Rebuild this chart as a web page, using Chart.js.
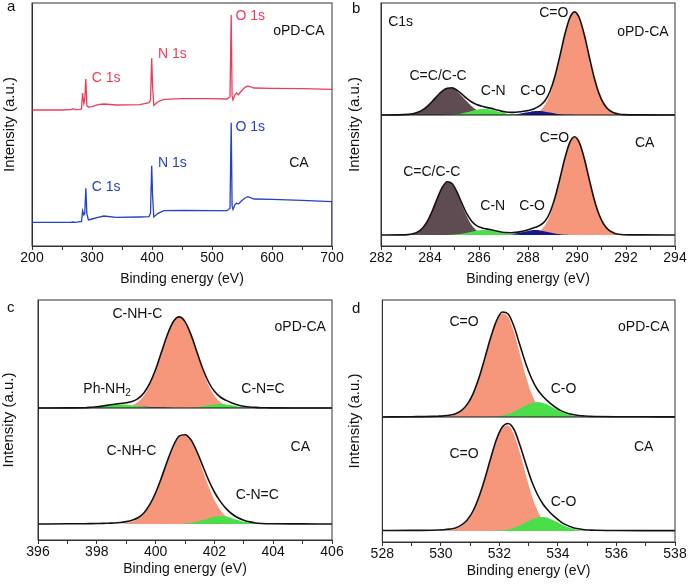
<!DOCTYPE html>
<html>
<head>
<meta charset="utf-8">
<title>XPS spectra</title>
<script src="https://cdn.jsdelivr.net/npm/chart.js@4.4.1/dist/chart.umd.min.js"></script>
<style>
    html, body { margin: 0; padding: 0; background: #ffffff; }
    #figure { position: relative; width: 691px; height: 584px; }
    #figure canvas { position: absolute; }
</style>
</head>
<body>
<div id="figure">
    <canvas id="chartA" width="345" height="290" style="left:0;top:0"></canvas>
    <canvas id="chartB" width="346" height="290" style="left:345px;top:0"></canvas>
    <canvas id="chartC" width="345" height="294" style="left:0;top:290px"></canvas>
    <canvas id="chartD" width="346" height="294" style="left:345px;top:290px"></canvas>
</div>
<script>
// survey spectra (a)
const surveyEnergy = [200, 250, 265, 268, 272, 280, 282.5, 284.3, 286.5, 288, 289.7, 291.5, 294, 300, 310, 320, 340, 380, 395, 397.5, 399.5, 401, 403, 410, 420, 450, 500, 525, 530, 532, 533.5, 535, 538, 541, 544, 549, 555, 560, 570, 600, 650, 700, 700];
const surveyOpdCa = [136, 136, 136.3, 137.3, 136.3, 136.7, 137, 153, 142.7, 147, 167, 140, 139, 139.3, 141.3, 142, 141, 141.3, 143.3, 146, 187.7, 160, 140.7, 144.3, 146.7, 147.3, 147.3, 147, 149.3, 231, 150, 146, 151, 153, 151.5, 155, 158.7, 160, 158, 157.7, 157.3, 156.7, 156.7];
const surveyCa = [23.7, 23.7, 23.7, 24, 23.7, 24.3, 24.5, 35.3, 31, 33, 57.7, 32, 26, 27, 28.7, 30, 28.7, 29, 29.3, 33, 80.3, 50, 29, 32.7, 35.3, 35.7, 35.3, 35.3, 37.7, 123.3, 40, 36.5, 41, 43, 42, 45, 48, 49.3, 47, 46.7, 45.7, 44.3, 0];

// C 1s (b)
const c1sEnergy = [282, 282.7, 283.1, 283.3, 283.5, 283.7, 283.9, 284.1, 284.3, 284.5, 284.7, 284.9, 285.1, 285.3, 285.5, 285.7, 285.9, 286.1, 286.3, 286.5, 286.7, 286.9, 287.1, 287.3, 287.5, 287.7, 287.9, 288.1, 288.3, 288.5, 288.7, 288.9, 289.1, 289.3, 289.5, 289.7, 289.9, 290.1, 290.3, 290.5, 290.7, 290.9, 291.1, 291.3, 291.5, 291.7, 291.9, 292.6, 294];
const c1sOpdEnvelope = [0, 0.1, 0.6, 1.3, 2.7, 5.1, 8.9, 13.8, 19.2, 23.9, 26.8, 27.1, 24.8, 20.9, 16.6, 13.0, 10.5, 8.9, 7.6, 6.6, 5.2, 3.9, 3.0, 2.6, 2.8, 3.3, 4.0, 5.0, 6.8, 9.6, 14.5, 23.8, 38.8, 58.9, 80.3, 96.8, 103.1, 96.7, 80.0, 58.3, 37.5, 21.4, 11.0, 5.1, 2.3, 1.0, 0.4, 0.1, 0];
const c1sOpdCC = [0, 0, 0.5, 1.2, 2.6, 5.0, 8.8, 13.7, 19.1, 23.8, 26.6, 26.6, 23.8, 19.1, 13.7, 8.8, 5.0, 2.6, 1.2, 0.5, 0.2, 0, 0, 0, 0, 0, 0, 0, 0, 0, 0, 0, 0, 0, 0, 0, 0, 0, 0, 0, 0, 0, 0, 0, 0, 0, 0, 0, 0];
const c1sOpdCN = [0, 0, 0, 0, 0, 0, 0, 0, 0, 0, 0.15, 0.4, 0.8, 1.6, 2.7, 4.0, 5.2, 5.9, 5.9, 5.2, 4.0, 2.7, 1.6, 0.8, 0.4, 0.15, 0, 0, 0, 0, 0, 0, 0, 0, 0, 0, 0, 0, 0, 0, 0, 0, 0, 0, 0, 0, 0, 0, 0];
const c1sOpdCO = [0, 0, 0, 0, 0, 0, 0, 0, 0, 0, 0, 0, 0, 0, 0, 0, 0, 0, 0, 0, 0, 0, 0.14, 0.36, 0.8, 1.5, 2.4, 3.3, 3.9, 3.9, 3.3, 2.4, 1.5, 0.8, 0.36, 0.14, 0, 0, 0, 0, 0, 0, 0, 0, 0, 0, 0, 0, 0];
const c1sOpdCdO = [0, 0, 0, 0, 0, 0, 0, 0, 0, 0, 0, 0, 0, 0, 0, 0, 0, 0, 0, 0, 0, 0, 0, 0, 0, 0, 0.2, 0.6, 1.8, 4.5, 10.4, 20.9, 37.1, 58.0, 79.8, 96.6, 103, 96.6, 79.8, 58.0, 37.1, 20.9, 10.4, 4.5, 1.8, 0.6, 0.2, 0, 0];
const c1sCaEnvelope = [0, 0.1, 0.4, 1.2, 3.1, 7.0, 14.1, 24.5, 36.8, 47.6, 53.3, 51.5, 43.2, 31.8, 21.3, 13.8, 9.4, 7.3, 6.1, 5.2, 4.0, 3.0, 2.4, 2.3, 2.6, 3.4, 4.6, 6.0, 7.7, 9.9, 14.0, 22.8, 37.2, 56.2, 76.5, 92.2, 98.2, 92.1, 76.3, 55.6, 35.8, 20.5, 10.5, 4.8, 2.1, 0.8, 0.3, 0.1, 0];
const c1sCaCC = [0, 0, 0.3, 1.1, 3.0, 6.9, 13.9, 24.3, 36.5, 47.2, 52.7, 50.8, 42.2, 30.3, 18.8, 10.0, 4.6, 1.8, 0.6, 0.2, 0, 0, 0, 0, 0, 0, 0, 0, 0, 0, 0, 0, 0, 0, 0, 0, 0, 0, 0, 0, 0, 0, 0, 0, 0, 0, 0, 0, 0];
const c1sCaCN = [0, 0, 0, 0, 0, 0, 0, 0, 0, 0, 0.1, 0.3, 0.7, 1.3, 2.2, 3.3, 4.3, 4.9, 4.9, 4.3, 3.3, 2.2, 1.3, 0.7, 0.3, 0.1, 0, 0, 0, 0, 0, 0, 0, 0, 0, 0, 0, 0, 0, 0, 0, 0, 0, 0, 0, 0, 0, 0, 0];
const c1sCaCO = [0, 0, 0, 0, 0, 0, 0, 0, 0, 0, 0, 0, 0, 0, 0, 0, 0, 0, 0, 0, 0, 0.1, 0.3, 0.7, 1.4, 2.4, 3.6, 4.6, 5.0, 4.6, 3.6, 2.4, 1.4, 0.7, 0.3, 0.1, 0, 0, 0, 0, 0, 0, 0, 0, 0, 0, 0, 0, 0];
const c1sCaCdO = [0, 0, 0, 0, 0, 0, 0, 0, 0, 0, 0, 0, 0, 0, 0, 0, 0, 0, 0, 0, 0, 0, 0, 0, 0, 0, 0.2, 0.6, 1.7, 4.3, 9.9, 19.9, 35.3, 55.2, 76.0, 91.9, 98, 91.9, 76.0, 55.2, 35.3, 19.9, 9.9, 4.3, 1.7, 0.6, 0.2, 0, 0];

// N 1s (c)
const n1sEnergy = [396, 397, 397.6, 397.8, 398.0, 398.2, 398.4, 398.6, 398.8, 399.0, 399.2, 399.4, 399.6, 399.8, 400.0, 400.2, 400.4, 400.6, 400.8, 401.0, 401.2, 401.4, 401.6, 401.8, 402.0, 402.2, 402.4, 402.6, 402.8, 403.0, 403.2, 403.4, 403.6, 403.8, 404.0, 405, 406];
const n1sOpdEnvelope = [0, 0.1, 0.3, 0.7, 1.2, 2.0, 2.9, 3.8, 4.5, 5.2, 6.4, 9.3, 15.0, 24.6, 38.5, 55.9, 73.3, 86.3, 91.1, 86.4, 73.6, 56.4, 39.5, 26.0, 16.7, 11.0, 7.6, 5.0, 3.1, 1.8, 1.0, 0.6, 0.3, 0.2, 0.1, 0, 0];
const n1sOpdCNHC = [0, 0, 0, 0, 0, 0, 0, 0, 0.4, 1.0, 2.6, 6.0, 12.3, 22.7, 37.4, 55.2, 72.9, 86.1, 91, 86.1, 72.9, 55.2, 37.4, 22.7, 12.3, 6.0, 2.6, 1.0, 0.4, 0, 0, 0, 0, 0, 0, 0, 0];
const n1sOpdPhNH2 = [0, 0, 0.2, 0.5, 1.0, 1.7, 2.5, 3.2, 3.5, 3.2, 2.5, 1.7, 1.0, 0.5, 0.2, 0, 0, 0, 0, 0, 0, 0, 0, 0, 0, 0, 0, 0, 0, 0, 0, 0, 0, 0, 0, 0, 0];
const n1sOpdMinor = [0, 0, 0, 0, 0, 0, 0, 0.27, 0.5, 0.8, 1.1, 1.3, 1.3, 1.1, 0.8, 0.5, 0.27, 0.1, 0, 0, 0, 0, 0, 0, 0, 0, 0, 0, 0, 0, 0, 0, 0, 0, 0, 0, 0];
const n1sOpdCNC = [0, 0, 0, 0, 0, 0, 0, 0, 0, 0, 0, 0, 0, 0, 0, 0, 0, 0, 0, 0, 0.3, 0.8, 1.6, 2.7, 3.6, 4, 3.6, 2.7, 1.6, 0.8, 0.3, 0, 0, 0, 0, 0, 0];
const n1sCaEnvelope = [0, 0.2, 0.3, 0.4, 0.5, 0.6, 0.8, 1.0, 1.5, 2.4, 3.8, 6.2, 11.0, 19.3, 31.3, 46.4, 63.0, 78.0, 87.8, 89.3, 84.2, 72.6, 58.3, 44.0, 32.0, 22.6, 15.4, 10.0, 6.2, 3.8, 2.1, 1.0, 0.5, 0.3, 0.2, 0.1, 0];
const n1sCaCNHC = [0, 0, 0, 0, 0, 0, 0, 0, 0, 1.0, 2.4, 5.2, 10.3, 18.6, 30.6, 45.7, 62.2, 77.0, 86.7, 88.7, 82.7, 70.0, 54.0, 37.8, 24.1, 14.0, 7.4, 3.6, 1.5, 0.6, 0, 0, 0, 0, 0, 0, 0];
const n1sCaCNC = [0, 0, 0, 0, 0, 0, 0, 0, 0, 0, 0, 0, 0, 0, 0, 0, 0, 0, 0, 0.4, 1.1, 2.2, 3.9, 5.8, 7.4, 8, 7.4, 5.8, 3.9, 2.2, 1.1, 0.4, 0.1, 0, 0, 0, 0];

// O 1s (d)
const o1sEnergy = [528, 529, 529.7, 529.9, 530.1, 530.3, 530.5, 530.7, 530.9, 531.1, 531.3, 531.5, 531.7, 531.9, 532.1, 532.3, 532.5, 532.7, 532.9, 533.1, 533.3, 533.5, 533.7, 533.9, 534.1, 534.3, 534.5, 534.7, 534.9, 535.1, 535.3, 536, 537, 538];
const o1sOpdEnvelope = [0, 0.3, 0.6, 0.8, 1.1, 1.8, 3.2, 6.4, 12.6, 23.2, 38.9, 58.6, 79.2, 96.2, 105.0, 103.0, 90.5, 72.0, 53.5, 38.5, 27.5, 20.2, 14.6, 10.0, 6.4, 4.0, 2.5, 1.5, 1.0, 0.6, 0.5, 0.3, 0.2, 0.1];
const o1sOpdCdO = [0, 0, 0, 0, 0.3, 0.9, 2.4, 5.6, 11.9, 22.5, 38.2, 57.8, 78.5, 95.4, 103.6, 100.2, 85.0, 63.1, 41.1, 23.4, 11.6, 5.1, 2.0, 0.7, 0.2, 0, 0, 0, 0, 0, 0, 0, 0, 0];
const o1sOpdCO = [0, 0, 0, 0, 0, 0, 0, 0, 0, 0, 0, 0, 0.2, 0.6, 1.4, 2.9, 5.2, 8.3, 11.5, 14.0, 15.0, 14.0, 11.5, 8.3, 5.2, 2.9, 1.4, 0.6, 0.2, 0, 0, 0, 0, 0];
const o1sCaEnvelope = [0.5, 0.6, 0.8, 1.0, 1.3, 1.9, 3.0, 5.8, 11.0, 20.0, 34.0, 52.0, 72.5, 91.5, 104.0, 107.5, 101.5, 86.0, 67.5, 50.0, 36.5, 26.5, 19.5, 13.8, 9.2, 5.9, 3.6, 2.2, 1.3, 0.9, 0.7, 0.5, 0.4, 0.4];
const o1sCaCdO = [0, 0, 0, 0, 0.3, 0.8, 2.0, 4.7, 9.9, 18.9, 32.7, 50.9, 71.3, 90.2, 102.7, 105.4, 96.3, 78.2, 56.4, 36.1, 20.6, 10.4, 4.6, 1.8, 0.6, 0.2, 0, 0, 0, 0, 0, 0, 0, 0];
const o1sCaCO = [0, 0, 0, 0, 0, 0, 0, 0, 0, 0, 0, 0, 0.1, 0.3, 0.7, 1.6, 3.2, 5.5, 8.5, 11.4, 13.5, 13.9, 12.6, 10.0, 7.0, 4.2, 2.3, 1.1, 0.4, 0, 0, 0, 0, 0];

const RED = '#ef3b5a';
const BLUE = '#2342c6';
const BROWN = '#5f4b52';
const GREEN = '#4ade4a';
const NAVY = '#17178c';
const SALMON = '#f6977c';
const INK = '#111111';
const AXIS = '#333333';
const FONT = '"Liberation Sans", Arial, sans-serif';

Chart.defaults.font.family = FONT;
Chart.defaults.font.size = 14;
Chart.defaults.color = INK;

const toPoints = function (xs, ys, offset) {
    return xs.map(function (x, i) { return { x: x, y: ys[i] + offset }; });
};

// frame, in-plot labels and the panel letter
const notesPlugin = {
    id: 'notes',
    afterDatasetsDraw: function (chart, args, opts) {
        const ctx = chart.ctx;
        const area = chart.chartArea;
        const sx = chart.scales.x;
        const sy = chart.scales.y;
        ctx.save();
        ctx.strokeStyle = AXIS;
        ctx.lineWidth = 1;
        ctx.strokeRect(area.left, area.top, area.right - area.left, area.bottom - area.top);
        ctx.textBaseline = 'middle';
        (opts.items || []).forEach(function (n) {
            const px = sx.getPixelForValue(n.x);
            const py = sy.getPixelForValue(n.y);
            ctx.fillStyle = n.color || INK;
            if (n.sub) {
                ctx.font = '14px ' + FONT;
                const w1 = ctx.measureText(n.text).width;
                ctx.font = '10px ' + FONT;
                const w2 = ctx.measureText(n.sub).width;
                const start = px - (w1 + w2) / 2;
                ctx.textAlign = 'left';
                ctx.font = '14px ' + FONT;
                ctx.fillText(n.text, start, py);
                ctx.font = '10px ' + FONT;
                ctx.fillText(n.sub, start + w1, py + 5);
            } else {
                ctx.font = '14px ' + FONT;
                ctx.textAlign = 'center';
                ctx.fillText(n.text, px, py);
            }
        });
        if (opts.letter) {
            ctx.font = '15px ' + FONT;
            ctx.fillStyle = INK;
            ctx.textAlign = 'left';
            ctx.textBaseline = 'alphabetic';
            ctx.fillText(opts.letter, 7, opts.letterY);
        }
        ctx.restore();
    }
};

const Figure = {
    init: function () {
        this.renderSurvey();
        this.renderCarbon();
        this.renderNitrogen();
        this.renderOxygen();
    },
    options: function (p) {
        return {
            responsive: false,
            animation: false,
            events: [],
            layout: { padding: p.padding },
            plugins: {
                legend: { display: false },
                tooltip: { enabled: false },
                notes: { items: p.notes, letter: p.letter, letterY: p.letterY }
            },
            scales: {
                x: {
                    type: 'linear',
                    min: p.xMin,
                    max: p.xMax,
                    border: { color: AXIS, width: 1 },
                    grid: { drawOnChartArea: false, tickLength: 4, color: AXIS },
                    ticks: {
                        stepSize: p.step,
                        autoSkip: false,
                        maxRotation: 0,
                        padding: 0,
                        color: INK,
                        font: { size: 14 },
                        callback: function (v) { return v % p.labelEvery === 0 ? String(v) : ''; }
                    },
                    title: {
                        display: true,
                        text: 'Binding energy (eV)',
                        color: INK,
                        font: { size: 14 },
                        padding: { top: p.titleGap, bottom: 0 }
                    }
                },
                y: {
                    min: 0,
                    max: p.yMax,
                    border: { color: AXIS, width: 1 },
                    grid: { display: false },
                    ticks: { display: false },
                    title: {
                        display: true,
                        text: 'Intensity (a.u.)',
                        color: INK,
                        font: { size: 15 },
                        padding: { top: p.yTitle[0], bottom: p.yTitle[1] }
                    }
                }
            }
        };
    },
    renderSurvey: function () {
        new Chart(document.getElementById('chartA'), {
            type: 'line',
            data: {
                datasets: [
                    { data: toPoints(surveyEnergy, surveyOpdCa, 0), borderColor: RED, borderWidth: 1.3, pointRadius: 0, tension: 0, fill: false },
                    { data: toPoints(surveyEnergy, surveyCa, 0), borderColor: BLUE, borderWidth: 1.3, pointRadius: 0, tension: 0, fill: false }
                ]
            },
            options: this.options({
                padding: { left: 0, right: 13, top: 3, bottom: 2.4 },
                xMin: 200, xMax: 700, step: 50, labelEvery: 100, yMax: 243,
                titleGap: 4, yTitle: [1, 5],
                letter: 'a', letterY: 11,
                notes: [
                    { text: 'C 1s', x: 323.4, y: 168, color: RED },
                    { text: 'N 1s', x: 433.8, y: 192, color: RED },
                    { text: 'O 1s', x: 563.6, y: 230, color: RED },
                    { text: 'oPD-CA', x: 644.8, y: 214.5 },
                    { text: 'C 1s', x: 323.4, y: 59, color: BLUE },
                    { text: 'N 1s', x: 433.8, y: 83, color: BLUE },
                    { text: 'O 1s', x: 563.6, y: 119, color: BLUE },
                    { text: 'CA', x: 644.8, y: 83 }
                ]
            }),
            plugins: [notesPlugin]
        });
    },
    // two stacked fitted spectra separated by a horizontal rule
    renderCore: function (id, p) {
        const datasets = [];
        p.spectra.forEach(function (s) {
            datasets.push({
                data: toPoints(p.energy, s.envelope, s.offset),
                borderColor: INK, borderWidth: 1.6, fill: false,
                pointRadius: 0, cubicInterpolationMode: 'monotone', order: 0
            });
            s.peaks.forEach(function (pk, i) {
                datasets.push({
                    data: toPoints(p.energy, pk.values, s.offset),
                    backgroundColor: pk.color, borderWidth: 0,
                    fill: { value: s.offset },
                    pointRadius: 0, cubicInterpolationMode: 'monotone', order: 10 - i
                });
            });
        });
        datasets.push({
            data: [{ x: p.xMin, y: p.divider }, { x: p.xMax, y: p.divider }],
            borderColor: INK, borderWidth: 1.2, pointRadius: 0, fill: false, order: 1
        });
        new Chart(document.getElementById(id), {
            type: 'line',
            data: { datasets: datasets },
            options: this.options(p),
            plugins: [notesPlugin]
        });
    },
    renderCarbon: function () {
        this.renderCore('chartB', {
            energy: c1sEnergy, xMin: 282, xMax: 294, step: 1, labelEvery: 2, yMax: 243, divider: 131,
            padding: { left: 0, right: 16, top: 3, bottom: 2.4 },
            titleGap: 4, yTitle: [1, 9],
            letter: 'b', letterY: 13.3,
            spectra: [
                { offset: 131, envelope: c1sOpdEnvelope, peaks: [
                    { values: c1sOpdCdO, color: SALMON },
                    { values: c1sOpdCC, color: BROWN },
                    { values: c1sOpdCO, color: NAVY },
                    { values: c1sOpdCN, color: GREEN }
                ] },
                { offset: 11, envelope: c1sCaEnvelope, peaks: [
                    { values: c1sCaCdO, color: SALMON },
                    { values: c1sCaCC, color: BROWN },
                    { values: c1sCaCO, color: NAVY },
                    { values: c1sCaCN, color: GREEN }
                ] }
            ],
            notes: [
                { text: 'C1s', x: 282.8, y: 224 },
                { text: 'C=O', x: 289.05, y: 232.7 },
                { text: 'oPD-CA', x: 292.69, y: 214.3 },
                { text: 'C=C/C-C', x: 284.33, y: 169.8 },
                { text: 'C-N', x: 286.58, y: 154.7 },
                { text: 'C-O', x: 288.21, y: 154.7 },
                { text: 'CA', x: 292.76, y: 102.7 },
                { text: 'C=O', x: 289.08, y: 107.7 },
                { text: 'C=C/C-C', x: 284.07, y: 74 },
                { text: 'C-N', x: 286.56, y: 40.2 },
                { text: 'C-O', x: 288.17, y: 40.2 }
            ]
        });
    },
    renderNitrogen: function () {
        this.renderCore('chartC', {
            energy: n1sEnergy, xMin: 396, xMax: 406, step: 1, labelEvery: 2, yMax: 240, divider: 132,
            padding: { left: 0, right: 13, top: 10, bottom: 6.4 },
            titleGap: 0, yTitle: [0, 12],
            letter: 'c', letterY: 21.7,
            spectra: [
                { offset: 132, envelope: n1sOpdEnvelope, peaks: [
                    { values: n1sOpdCNHC, color: SALMON },
                    { values: n1sOpdMinor, color: NAVY },
                    { values: n1sOpdPhNH2, color: GREEN },
                    { values: n1sOpdCNC, color: GREEN }
                ] },
                { offset: 16, envelope: n1sCaEnvelope, peaks: [
                    { values: n1sCaCNHC, color: SALMON },
                    { values: n1sCaCNC, color: GREEN }
                ] }
            ],
            notes: [
                { text: 'C-NH-C', x: 399.38, y: 225.8 },
                { text: 'oPD-CA', x: 404.92, y: 213.3 },
                { text: 'Ph-NH', sub: '2', x: 398.35, y: 151.3 },
                { text: 'C-N=C', x: 403.65, y: 150.7 },
                { text: 'C-NH-C', x: 399.18, y: 88.7 },
                { text: 'CA', x: 404.92, y: 93.3 },
                { text: 'C-N=C', x: 403.46, y: 44.5 }
            ]
        });
    },
    renderOxygen: function () {
        this.renderCore('chartD', {
            energy: o1sEnergy, xMin: 528, xMax: 538, step: 1, labelEvery: 2, yMax: 242, divider: 125,
            padding: { left: 0, right: 16, top: 10, bottom: 4.4 },
            titleGap: 0, yTitle: [0.6, 10.7],
            letter: 'd', letterY: 22.7,
            spectra: [
                { offset: 125, envelope: o1sOpdEnvelope, peaks: [
                    { values: o1sOpdCdO, color: SALMON },
                    { values: o1sOpdCO, color: GREEN }
                ] },
                { offset: 11, envelope: o1sCaEnvelope, peaks: [
                    { values: o1sCaCdO, color: SALMON },
                    { values: o1sCaCO, color: GREEN }
                ] }
            ],
            notes: [
                { text: 'C=O', x: 530.79, y: 220.3 },
                { text: 'oPD-CA', x: 536.93, y: 215.3 },
                { text: 'C-O', x: 534.19, y: 153.3 },
                { text: 'C=O', x: 530.79, y: 88.2 },
                { text: 'CA', x: 536.93, y: 95.3 },
                { text: 'C-O', x: 534.19, y: 40 }
            ]
        });
    }
};

Figure.init();
</script>
</body>
</html>
